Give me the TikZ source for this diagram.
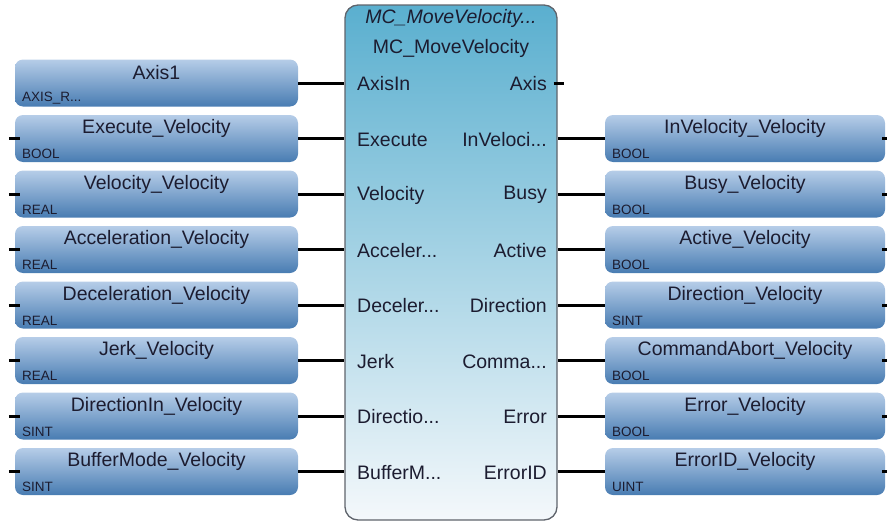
\documentclass[tikz,border=0pt]{standalone}
\usepackage{fontspec}
\setmainfont{Liberation Sans}
\newcommand{\ellip}{...}
\definecolor{boxtop}{RGB}{182,205,232}
\definecolor{boxbot}{RGB}{72,124,178}
\definecolor{blktop}{RGB}{90,175,207}
\definecolor{blkbot}{RGB}{244,248,251}
\definecolor{txt}{RGB}{28,28,48}
\definecolor{blkline}{RGB}{95,100,108}
\tikzset{
  varbox/.style={rectangle, rounded corners=8pt, minimum width=283pt, minimum height=47pt,
    top color=boxtop, bottom color=boxbot, inner sep=0pt},
  rvarbox/.style={varbox, minimum width=280pt},
  vname/.style={text=txt, font=\fontsize{19.5}{21}\selectfont, inner sep=0pt},
  vtype/.style={text=txt, font=\fontsize{13.5}{15}\selectfont, inner sep=0pt, anchor=west},
  pinlbl/.style={text=txt, font=\fontsize{19.5}{21}\selectfont, inner sep=0pt},
  pinline/.style={line width=3pt, black},
  stub/.style={line width=3pt, black},
}
\begin{document}
\begin{tikzpicture}[x=1pt,y=-1pt]
\useasboundingbox (0,0) rectangle (887,522);
% function block
\node[draw=blkline, line width=1.3pt, rounded corners=13pt, top color=blktop, bottom color=blkbot,
  minimum width=212pt, minimum height=515pt, inner sep=0pt] (blk) at (451,262.5) {};
\node[pinlbl, font=\itshape\fontsize{19.5}{21}\selectfont] (inst) at (451,18) {MC\_MoveVelocity\ellip};
\node[pinlbl] (ftype) at (451,48) {MC\_MoveVelocity};
% left side
\foreach \i/\nm/\ty/\pn [count=\k from 0] in {
  1/Axis1/AXIS\_R\ellip/AxisIn,
  2/Execute\_Velocity/BOOL/Execute,
  3/Velocity\_Velocity/REAL/Velocity,
  4/Acceleration\_Velocity/REAL/Acceler\ellip,
  5/Deceleration\_Velocity/REAL/Deceler\ellip,
  6/Jerk\_Velocity/REAL/Jerk,
  7/DirectionIn\_Velocity/SINT/Directio\ellip,
  8/BufferMode\_Velocity/SINT/BufferM\ellip}{
  \pgfmathsetmacro{\cy}{83+55.5*\k}
  \node[varbox] (L\i) at (156.5,\cy) {};
  \node[vname] (Ln\i) at (156.5,\cy-10) {\nm};
  \node[vtype] (Lt\i) at (22,\cy+15.5) {\ty};
  \node[pinlbl, anchor=west] (Lp\i) at (357,\cy+1) {\pn};
  \draw[pinline] (L\i.east) coordinate (La\i) -- (La\i -| blk.west);
}
\foreach \i in {2,3,4,5,6,7,8}{
  \draw[stub] (L\i.west) ++(-6,0) coordinate (Ls\i) -- ++(11,0);
}
% right side
\node[pinlbl, anchor=east] (Rp1) at (547,84) {Axis};
\draw[stub] (blk.east |- Rp1.east) ++(-4,-1) coordinate (Rs1) -- ++(10,0);
\foreach \i/\nm/\ty/\pn [count=\k from 1] in {
  2/InVelocity\_Velocity/BOOL/InVeloci\ellip,
  3/Busy\_Velocity/BOOL/Busy,
  4/Active\_Velocity/BOOL/Active,
  5/Direction\_Velocity/SINT/Direction,
  6/CommandAbort\_Velocity/BOOL/Comma\ellip,
  7/Error\_Velocity/BOOL/Error,
  8/ErrorID\_Velocity/UINT/ErrorID}{
  \pgfmathsetmacro{\cy}{83+55.5*\k}
  \node[rvarbox] (R\i) at (745,\cy) {};
  \node[vname] (Rn\i) at (745,\cy-10) {\nm};
  \node[vtype] (Rt\i) at (612,\cy+15.5) {\ty};
  \node[pinlbl, anchor=east] (Rp\i) at (547,\cy+1) {\pn};
  \draw[pinline] (R\i.west) coordinate (Ra\i) -- (Ra\i -| blk.east);
  \draw[stub] (R\i.east) ++(-3,0) coordinate (Rs\i) -- ++(6,0);
}
\end{tikzpicture}
\end{document}
